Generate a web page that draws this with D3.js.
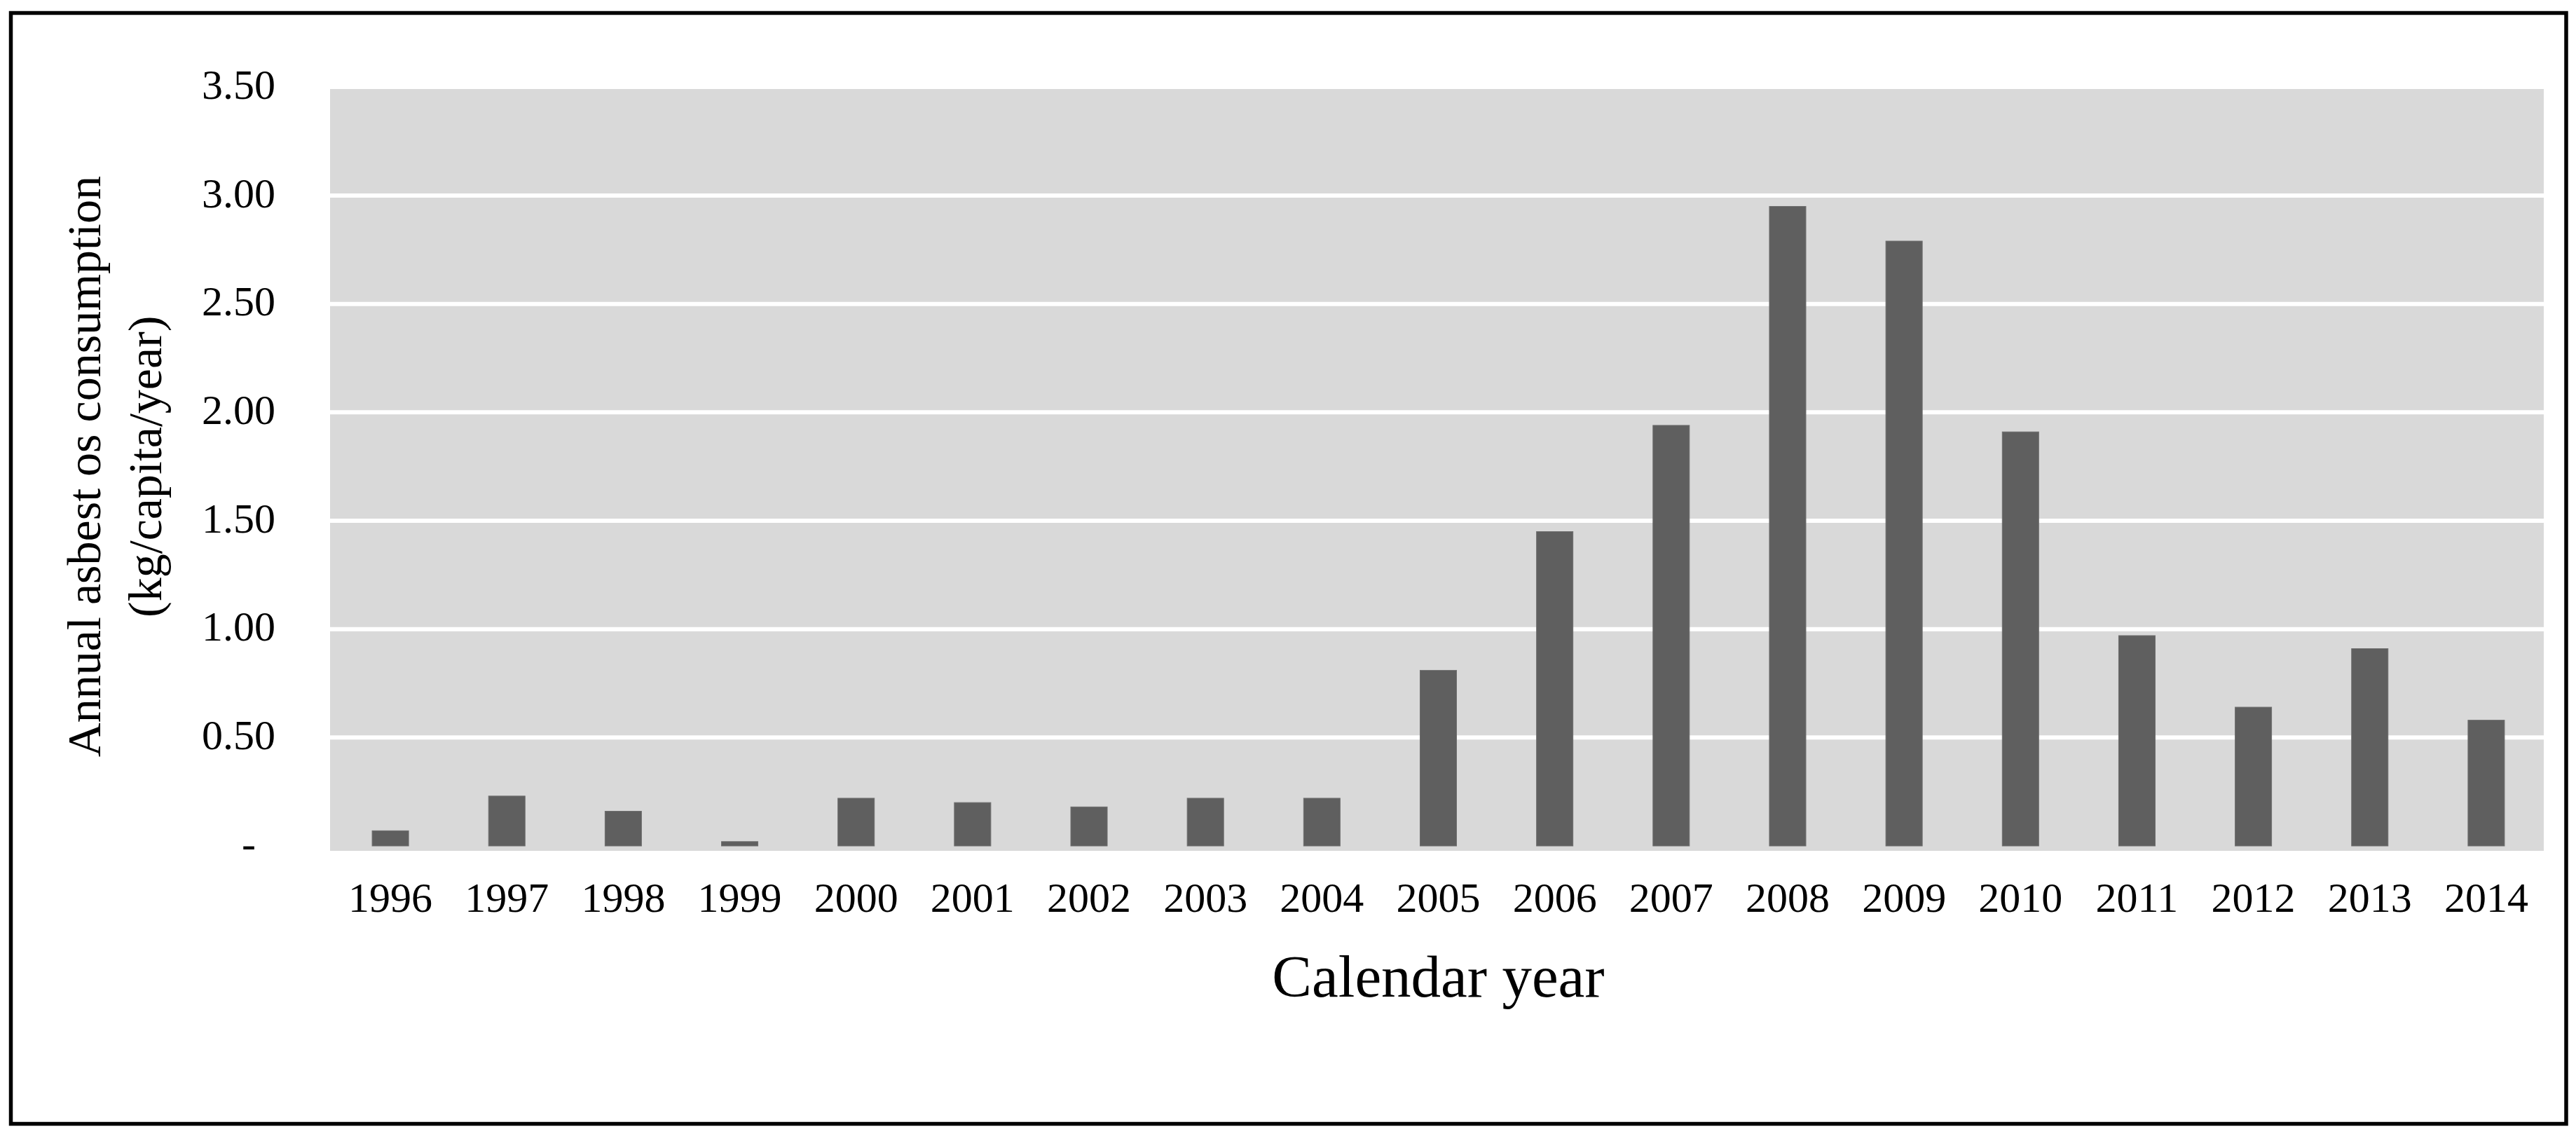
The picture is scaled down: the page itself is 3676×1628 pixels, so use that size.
<!DOCTYPE html>
<html>
<head>
<meta charset="utf-8">
<script src="https://cdn.jsdelivr.net/npm/d3@7"></script>
<style>
  html, body { margin: 0; padding: 0; background: #ffffff; }
  svg { display: block; }
  text { font-family: "Liberation Serif", "Times New Roman", serif; fill: #000; }
</style>
</head>
<body>
<svg id="chart" width="3676" height="1628"></svg>
<script>
// ---- data ----
const years = ["1996","1997","1998","1999","2000","2001","2002","2003","2004","2005",
               "2006","2007","2008","2009","2010","2011","2012","2013","2014"];
const consumption = [0.07, 0.23, 0.16, 0.02, 0.22, 0.20, 0.18, 0.22, 0.22, 0.81,
                     1.45, 1.94, 2.95, 2.79, 1.91, 0.97, 0.64, 0.91, 0.58];
const yTickValues = [0, 0.5, 1.0, 1.5, 2.0, 2.5, 3.0, 3.5];
const yTickLabels = ["-", "0.50", "1.00", "1.50", "2.00", "2.50", "3.00", "3.50"];
const yTitleLines = ["Annual asbest os consumption", "(kg/capita/year)"];
const xTitle = "Calendar year";

// ---- layout ----
const svg = d3.select("#chart");
const plotLeft = 474, plotRight = 3631;
const plotTop = 124.4, plotBottom = 1207;

const x = d3.scaleBand()
  .domain(years)
  .range([plotLeft, plotRight])
  .paddingInner(0.687)
  .paddingOuter(0.3435);

const y = d3.scaleLinear()
  .domain([0, 3.5])
  .range([plotBottom, plotTop]);

// outer frame
svg.append("rect")
  .attr("x", 15.5).attr("y", 18.5)
  .attr("width", 3646.5).attr("height", 1585)
  .attr("fill", "none")
  .attr("stroke", "#000")
  .attr("stroke-width", 5.5);

// plot background
svg.append("rect")
  .attr("x", 471).attr("y", y(3.5) + 2.6)
  .attr("width", 3630 - 471)
  .attr("height", (y(0) + 7) - (y(3.5) + 2.6))
  .attr("fill", "#d9d9d9");

// gridlines
svg.append("g")
  .selectAll("line")
  .data(yTickValues.filter(v => v > 0 && v < 3.5))
  .join("line")
  .attr("x1", 471).attr("x2", 3630)
  .attr("y1", d => y(d)).attr("y2", d => y(d))
  .attr("stroke", "#ffffff")
  .attr("stroke-width", 6);

// bars
svg.append("g")
  .selectAll("rect")
  .data(years.map((yr, i) => ({ yr, v: consumption[i] })))
  .join("rect")
  .attr("x", d => x(d.yr))
  .attr("width", x.bandwidth())
  .attr("y", d => y(d.v))
  .attr("height", d => y(0) - y(d.v))
  .attr("fill", "#5f5f5f")
  .attr("stroke", "#6e6e6e")
  .attr("stroke-width", 1);

// y axis
const yAxis = d3.axisLeft(y)
  .tickValues(yTickValues)
  .tickSize(0)
  .tickPadding(0)
  .tickFormat((d, i) => yTickLabels[i]);
const gy = svg.append("g")
  .attr("transform", "translate(393,0)")
  .call(yAxis);
gy.select(".domain").remove();
gy.selectAll("text")
  .attr("font-family", "Liberation Serif")
  .attr("font-size", 60)
  .attr("fill", "#000")
  .attr("dy", 16)
  .attr("x", d => d === 0 ? -28 : 0);

// x axis
const xAxis = d3.axisBottom(x).tickSize(0).tickPadding(0);
const gx = svg.append("g")
  .attr("transform", `translate(0,${plotBottom})`)
  .call(xAxis);
gx.select(".domain").remove();
gx.selectAll("text")
  .attr("font-family", "Liberation Serif")
  .attr("font-size", 60)
  .attr("fill", "#000")
  .attr("dy", 0)
  .attr("y", 94);

// x axis title
svg.append("text")
  .attr("x", (plotLeft + plotRight) / 2)
  .attr("y", 1422)
  .attr("text-anchor", "middle")
  .attr("font-size", 85)
  .text(xTitle);

// y axis title
const yCenter = (plotTop + plotBottom) / 2;
const yt = svg.append("text")
  .attr("transform", "rotate(-90)")
  .attr("text-anchor", "middle")
  .attr("font-size", 68);
yt.selectAll("tspan")
  .data(yTitleLines)
  .join("tspan")
  .attr("x", -yCenter)
  .attr("y", (d, i) => i === 0 ? 143 : 230)
  .text(d => d);
</script>
</body>
</html>
